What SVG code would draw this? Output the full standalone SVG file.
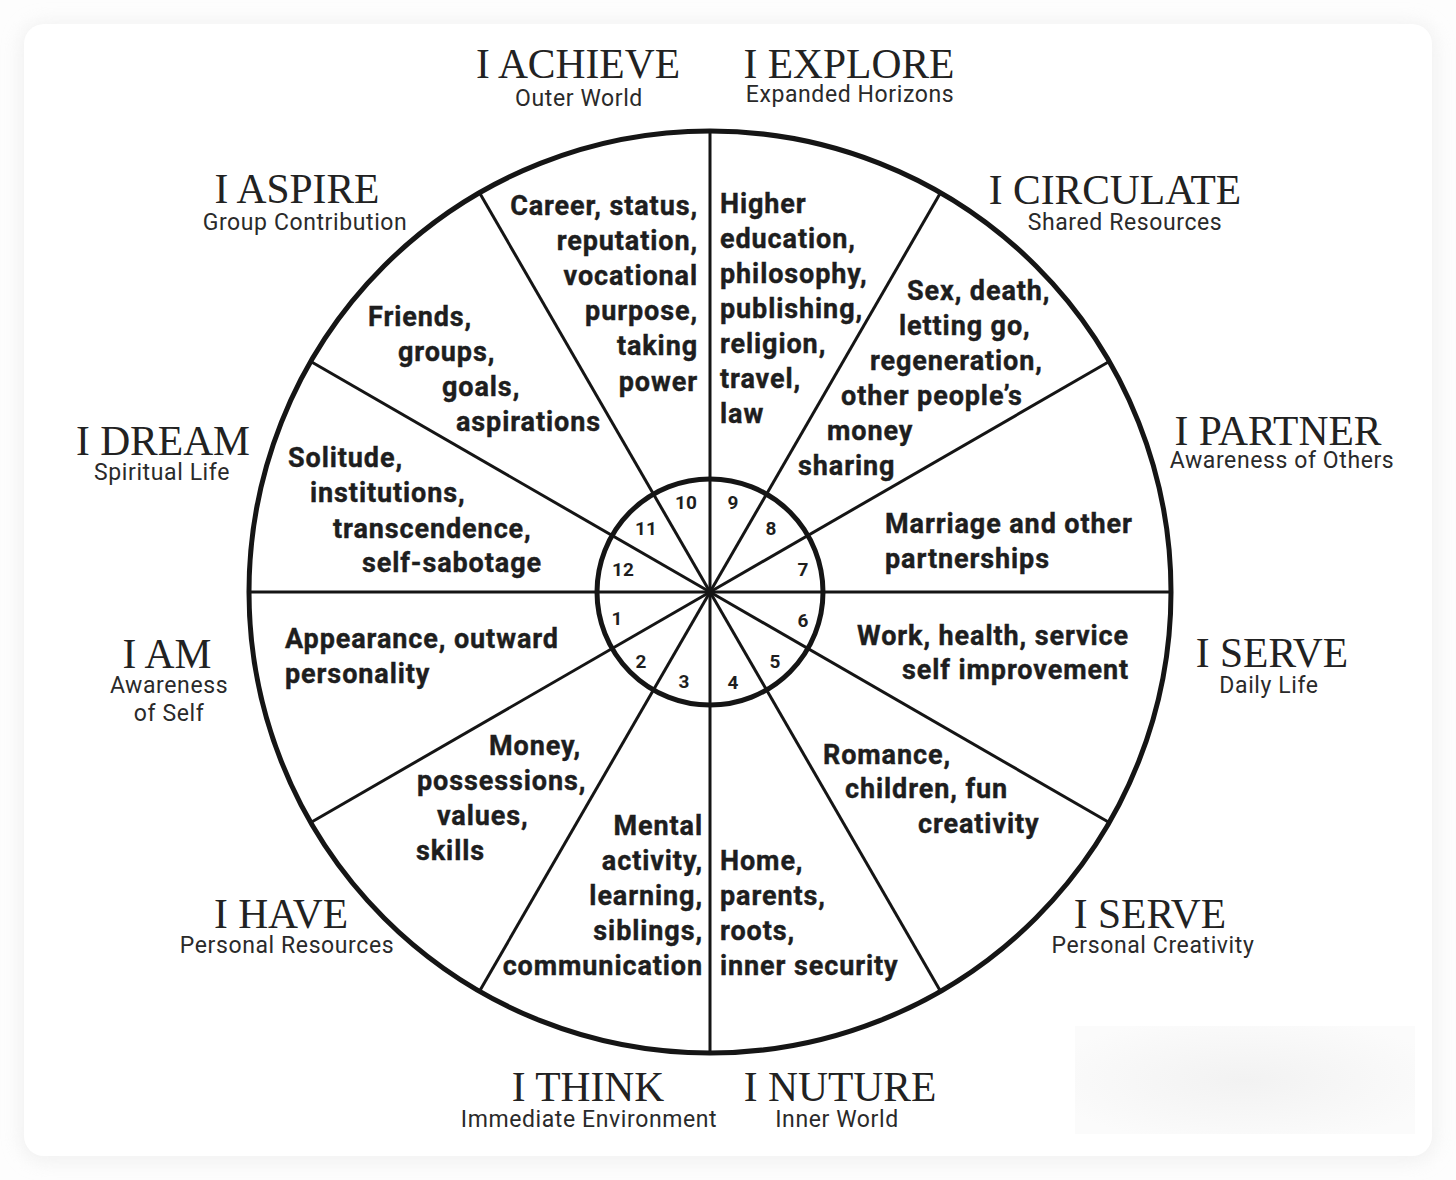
<svg xmlns="http://www.w3.org/2000/svg" width="1456" height="1180" viewBox="0 0 1456 1180">
<style>
.t{font-family:"Liberation Serif","Times New Roman",serif;font-size:41.5px;fill:#222;text-anchor:middle}
.s{font-family:Roboto,"Liberation Sans",sans-serif;font-size:23px;letter-spacing:0.6px;fill:#2a2a2a;text-anchor:middle}
.b{font-family:Roboto,"Liberation Sans",sans-serif;font-size:27px;letter-spacing:0.9px;font-weight:700;fill:#1e1e1e;stroke:#1e1e1e;stroke-width:0.4px}
.r{text-anchor:end}
.n{font-family:Roboto,"Liberation Sans",sans-serif;font-size:19px;font-weight:700;fill:#1e1e1e;text-anchor:middle}
.spoke{stroke:#151515;stroke-width:3;fill:none}
.ring{stroke:#151515;stroke-width:5;fill:none}
</style>
<defs>
<filter id="sh" x="-5%" y="-5%" width="110%" height="110%"><feGaussianBlur stdDeviation="9"/></filter>
<radialGradient id="fade" cx="0.5" cy="0.5" r="0.6"><stop offset="0" stop-color="#f2f2f2"/><stop offset="1" stop-color="#fbfbfb"/></radialGradient>
</defs>
<rect width="1456" height="1180" fill="#fdfdfd"/>
<rect x="20" y="22" width="1416" height="1140" rx="24" fill="#e9e9e9" filter="url(#sh)" opacity="0.6"/>
<rect x="24" y="24" width="1408" height="1132" rx="20" fill="#ffffff"/>
<rect x="1075" y="1026" width="340" height="108" fill="url(#fade)"/>

<g id="wheel">
<circle class="ring" cx="710" cy="592" r="461"/>
<circle cx="710" cy="592" r="113" fill="#fff" class="ring"/>
</g>
<g id="connectors">
<line class="spoke" x1="710" y1="592" x2="1171" y2="592"/>
<line class="spoke" x1="710" y1="592" x2="1109.2" y2="361.5"/>
<line class="spoke" x1="710" y1="592" x2="940.5" y2="192.8"/>
<line class="spoke" x1="710" y1="592" x2="710" y2="131"/>
<line class="spoke" x1="710" y1="592" x2="479.5" y2="192.8"/>
<line class="spoke" x1="710" y1="592" x2="310.8" y2="361.5"/>
<line class="spoke" x1="710" y1="592" x2="249" y2="592"/>
<line class="spoke" x1="710" y1="592" x2="310.8" y2="822.5"/>
<line class="spoke" x1="710" y1="592" x2="479.5" y2="991.2"/>
<line class="spoke" x1="710" y1="592" x2="710" y2="1053"/>
<line class="spoke" x1="710" y1="592" x2="940.5" y2="991.2"/>
<line class="spoke" x1="710" y1="592" x2="1109.2" y2="822.5"/>
<circle cx="710" cy="592" r="4" fill="#151515"/>
</g>

<g id="house-numbers">
<text class="n" x="686" y="509">10</text>
<text class="n" x="733" y="509">9</text>
<text class="n" x="646" y="535">11</text>
<text class="n" x="771" y="535">8</text>
<text class="n" x="623" y="576">12</text>
<text class="n" x="803" y="576">7</text>
<text class="n" x="617" y="625">1</text>
<text class="n" x="803" y="627">6</text>
<text class="n" x="641" y="668">2</text>
<text class="n" x="775" y="668">5</text>
<text class="n" x="684" y="688">3</text>
<text class="n" x="733" y="689">4</text>
</g>

<g id="house10">
<text class="b r" x="698" y="215">Career, status,</text>
<text class="b r" x="698" y="250">reputation,</text>
<text class="b r" x="698" y="285">vocational</text>
<text class="b r" x="698" y="320">purpose,</text>
<text class="b r" x="698" y="355">taking</text>
<text class="b r" x="698" y="391">power</text>
</g>
<g id="house9">
<text class="b" x="720" y="213">Higher</text>
<text class="b" x="720" y="248">education,</text>
<text class="b" x="720" y="283">philosophy,</text>
<text class="b" x="720" y="318">publishing,</text>
<text class="b" x="720" y="353">religion,</text>
<text class="b" x="720" y="388">travel,</text>
<text class="b" x="720" y="423">law</text>
</g>
<g id="house8">
<text class="b" x="907" y="300">Sex, death,</text>
<text class="b" x="899" y="335">letting go,</text>
<text class="b" x="870" y="370">regeneration,</text>
<text class="b" x="841" y="405">other people’s</text>
<text class="b" x="827" y="440">money</text>
<text class="b" x="798" y="475">sharing</text>
</g>
<g id="house7">
<text class="b" x="885" y="533">Marriage and other</text>
<text class="b" x="885" y="568">partnerships</text>
</g>
<g id="house6">
<text class="b r" x="1129" y="645">Work, health, service</text>
<text class="b r" x="1129" y="679">self improvement</text>
</g>
<g id="house5">
<text class="b" x="823" y="764">Romance,</text>
<text class="b" x="845" y="798">children, fun</text>
<text class="b" x="918" y="833">creativity</text>
</g>
<g id="house4">
<text class="b" x="720" y="870">Home,</text>
<text class="b" x="720" y="905">parents,</text>
<text class="b" x="720" y="940">roots,</text>
<text class="b" x="720" y="975">inner security</text>
</g>
<g id="house3">
<text class="b r" x="703" y="835">Mental</text>
<text class="b r" x="703" y="870">activity,</text>
<text class="b r" x="703" y="905">learning,</text>
<text class="b r" x="703" y="940">siblings,</text>
<text class="b r" x="703" y="975">communication</text>
</g>
<g id="house2">
<text class="b" x="489" y="755">Money,</text>
<text class="b" x="417" y="790">possessions,</text>
<text class="b" x="437" y="825">values,</text>
<text class="b" x="416" y="860">skills</text>
</g>
<g id="house1">
<text class="b" x="285" y="648">Appearance, outward</text>
<text class="b" x="285" y="683">personality</text>
</g>
<g id="house12">
<text class="b" x="288" y="467">Solitude,</text>
<text class="b" x="310" y="502">institutions,</text>
<text class="b" x="333" y="538">transcendence,</text>
<text class="b" x="362" y="572">self-sabotage</text>
</g>
<g id="house11">
<text class="b" x="368" y="326">Friends,</text>
<text class="b" x="398" y="361">groups,</text>
<text class="b" x="442" y="396">goals,</text>
<text class="b" x="456" y="431">aspirations</text>
</g>

<g id="label-achieve"><text class="t" x="578" y="78">I ACHIEVE</text><text class="s" x="579" y="106">Outer World</text></g>
<g id="label-explore"><text class="t" x="849" y="78">I EXPLORE</text><text class="s" x="850" y="102">Expanded Horizons</text></g>
<g id="label-aspire"><text class="t" x="297" y="203">I ASPIRE</text><text class="s" x="305" y="230">Group Contribution</text></g>
<g id="label-circulate"><text class="t" x="1115" y="204">I CIRCULATE</text><text class="s" x="1125" y="230">Shared Resources</text></g>
<g id="label-dream"><text class="t" x="163" y="455">I DREAM</text><text class="s" x="162" y="480">Spiritual Life</text></g>
<g id="label-partner"><text class="t" x="1278" y="445">I PARTNER</text><text class="s" x="1282" y="468">Awareness of Others</text></g>
<g id="label-am"><text class="t" x="167" y="668">I AM</text><text class="s" x="169" y="693">Awareness</text><text class="s" x="169" y="721">of Self</text></g>
<g id="label-serve-daily"><text class="t" x="1272" y="667">I SERVE</text><text class="s" x="1269" y="693">Daily Life</text></g>
<g id="label-have"><text class="t" x="281" y="928">I HAVE</text><text class="s" x="287" y="953">Personal Resources</text></g>
<g id="label-serve-creativity"><text class="t" x="1150" y="928">I SERVE</text><text class="s" x="1153" y="953">Personal Creativity</text></g>
<g id="label-think"><text class="t" x="588" y="1101">I THINK</text><text class="s" x="589" y="1127">Immediate Environment</text></g>
<g id="label-nuture"><text class="t" x="840" y="1101">I NUTURE</text><text class="s" x="837" y="1127">Inner World</text></g>
</svg>
